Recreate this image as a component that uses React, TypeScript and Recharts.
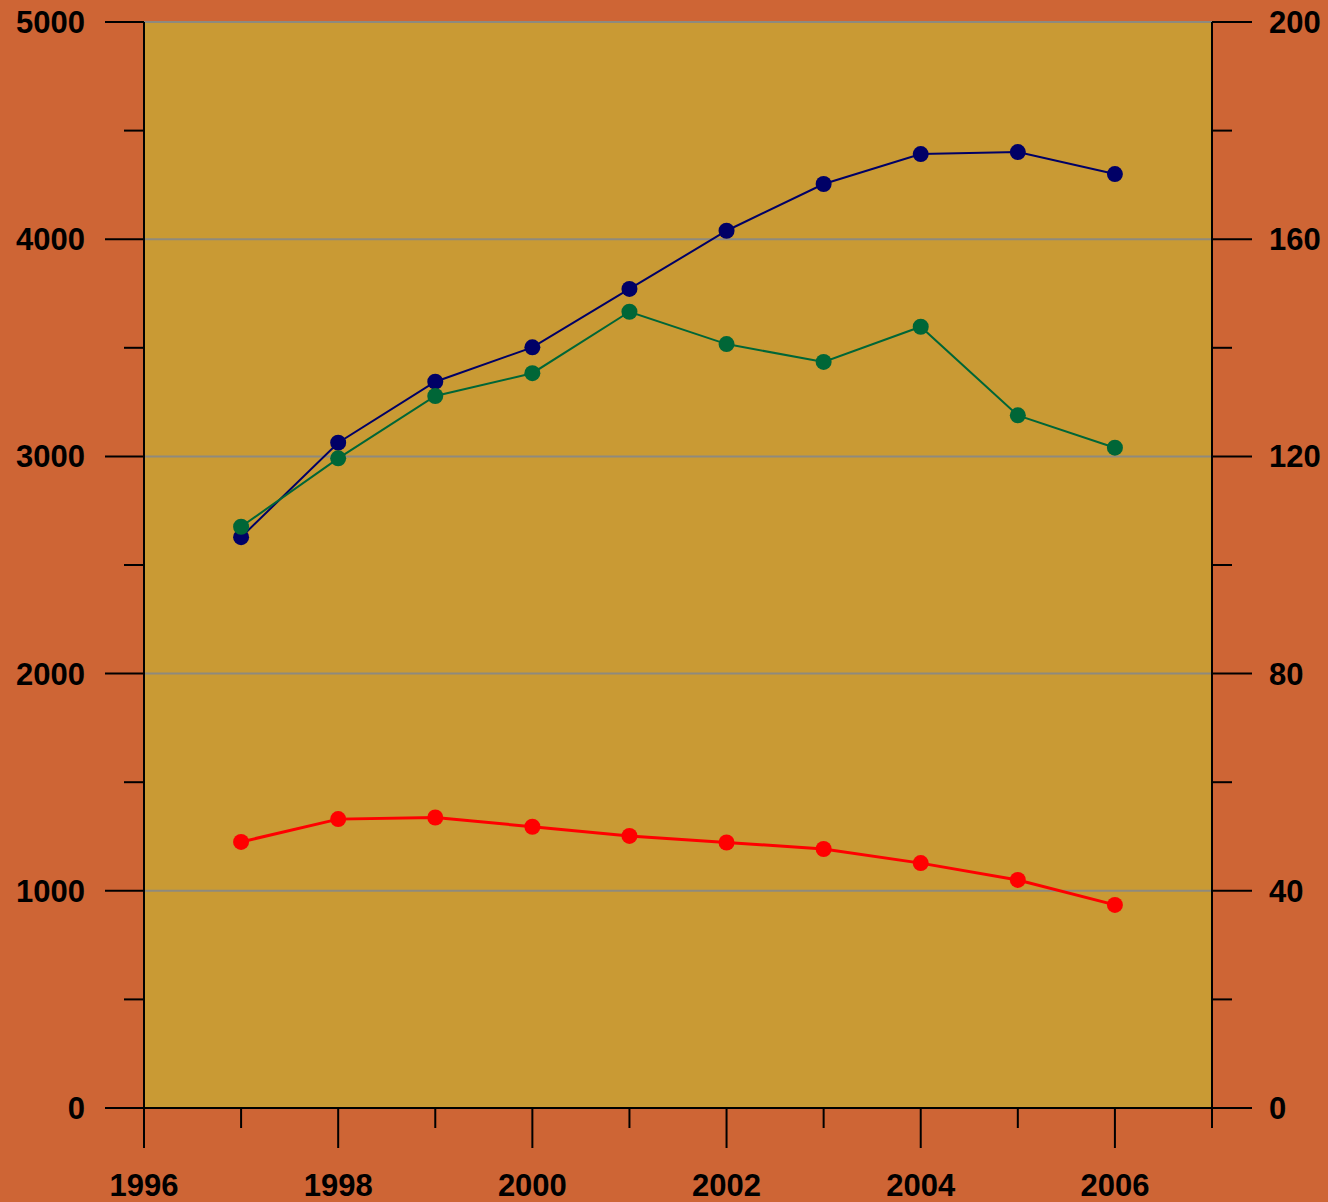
import { LineChart, Line, XAxis, YAxis, CartesianGrid, ReferenceLine } from "recharts"

// years on the x axis
const years = [1997, 1998, 1999, 2000, 2001, 2002, 2003, 2004, 2005, 2006]

// left axis series
const navyValues = [2628, 3063, 3344, 3502, 3771, 4039, 4254, 4392, 4401, 4300]
const greenValues = [2676, 2991, 3278, 3383, 3666, 3517, 3435, 3597, 3189, 3040]

// right axis series
const redValues = [49.0, 53.2, 53.5, 51.8, 50.1, 48.9, 47.7, 45.1, 42.0, 37.4]

// axis ticks
const xTicks = [1996, 1997, 1998, 1999, 2000, 2001, 2002, 2003, 2004, 2005, 2006, 2007]
const leftTicks = [0, 500, 1000, 1500, 2000, 2500, 3000, 3500, 4000, 4500, 5000]
const rightTicks = [0, 20, 40, 60, 80, 100, 120, 140, 160, 180, 200]
const gridValues = [1000, 2000, 3000, 4000, 5000]

const data = years.map((year, i) => ({
  year,
  navy: navyValues[i],
  green: greenValues[i],
  red: redValues[i],
}))

const BG = "#CE6535"
const PLOT = "#C99A34"
const GRID = "#8E8A7E"
const FONT = "'Liberation Sans', Arial, sans-serif"
const FONT_SIZE = 31

function LeftTick(props: any) {
  const { x, y, payload } = props
  const major = payload.value % 1000 === 0
  return (
    <g>
      <line x1={x} y1={y} x2={x - (major ? 39 : 20)} y2={y} stroke="#000" strokeWidth={2} />
      {major && (
        <text x={x - 59} y={y + 11} textAnchor="end" fontFamily={FONT} fontWeight="bold" fontSize={FONT_SIZE} fill="#000">
          {payload.value}
        </text>
      )}
    </g>
  )
}

function RightTick(props: any) {
  const { x, y, payload } = props
  const major = payload.value % 40 === 0
  return (
    <g>
      <line x1={x} y1={y} x2={x + (major ? 40 : 20)} y2={y} stroke="#000" strokeWidth={2} />
      {major && (
        <text x={x + 57} y={y + 11} textAnchor="start" fontFamily={FONT} fontWeight="bold" fontSize={FONT_SIZE} fill="#000">
          {payload.value}
        </text>
      )}
    </g>
  )
}

function BottomTick(props: any) {
  const { x, y, payload } = props
  const major = payload.value % 2 === 0
  return (
    <g>
      <line x1={x} y1={y} x2={x} y2={y + (major ? 40 : 20)} stroke="#000" strokeWidth={2} />
      {major && (
        <text x={x} y={y + 88} textAnchor="middle" fontFamily={FONT} fontWeight="bold" fontSize={FONT_SIZE} fill="#000">
          {payload.value}
        </text>
      )}
    </g>
  )
}

export default function App() {
  return (
    <div style={{ position: "absolute", top: 0, left: 0, width: 1328, height: 1202, background: BG }}>
      <style>{`body{margin:0}`}</style>
      <LineChart width={1328} height={1202} data={data} margin={{ top: 22, right: 0, left: 0, bottom: 0 }}>
        <CartesianGrid yAxisId="left" horizontal={false} vertical={false} fill={PLOT} fillOpacity={1} />
        <XAxis
          dataKey="year"
          type="number"
          domain={[1996, 2007]}
          ticks={xTicks}
          interval={0}
          height={94}
          tickSize={0}
          tickMargin={0}
          tickLine={false}
          axisLine={{ stroke: "#000", strokeWidth: 2 }}
          tick={<BottomTick />}
        />
        <YAxis
          yAxisId="left"
          domain={[0, 5000]}
          ticks={leftTicks}
          interval={0}
          width={144}
          tickSize={0}
          tickMargin={0}
          tickLine={false}
          axisLine={{ stroke: "#000", strokeWidth: 2 }}
          tick={<LeftTick />}
        />
        <YAxis
          yAxisId="right"
          orientation="right"
          domain={[0, 200]}
          ticks={rightTicks}
          interval={0}
          width={116}
          tickSize={0}
          tickMargin={0}
          tickLine={false}
          axisLine={{ stroke: "#000", strokeWidth: 2 }}
          tick={<RightTick />}
        />
        {gridValues.map((v) => (
          <ReferenceLine key={v} yAxisId="left" y={v} stroke={GRID} strokeWidth={2} />
        ))}
        <Line
          yAxisId="left"
          dataKey="navy"
          stroke="#000066"
          strokeWidth={2}
          dot={{ r: 8, fill: "#000066", stroke: "#000066", strokeWidth: 0 }}
          activeDot={false}
          isAnimationActive={false}
        />
        <Line
          yAxisId="left"
          dataKey="green"
          stroke="#006637"
          strokeWidth={2}
          dot={{ r: 8, fill: "#006637", stroke: "#006637", strokeWidth: 0 }}
          activeDot={false}
          isAnimationActive={false}
        />
        <Line
          yAxisId="right"
          dataKey="red"
          stroke="#FF0000"
          strokeWidth={3}
          dot={{ r: 8, fill: "#FF0000", stroke: "#FF0000", strokeWidth: 0 }}
          activeDot={false}
          isAnimationActive={false}
        />
      </LineChart>
    </div>
  )
}
